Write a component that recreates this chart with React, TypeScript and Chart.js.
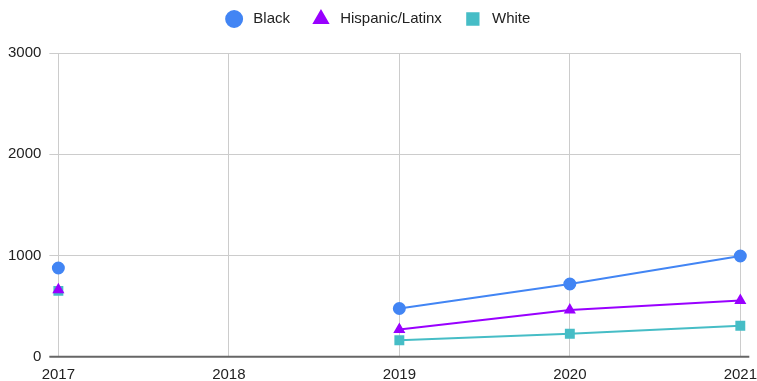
import React, { useEffect, useRef } from "react";
import { Chart, registerables } from "chart.js";

Chart.register(...registerables);

const years = ["2017", "2018", "2019", "2020", "2021"];
const black = [876, null, 476, 718, 995];
const hispanic = [662, null, 269, 462, 555];
const white = [650, null, 163, 226, 305];
const yTicks = [0, 1000, 2000, 3000];

const FONT = "'Liberation Sans', Arial, sans-serif";

const baselinePlugin = {
  id: "baseline",
  beforeInit(chart: any) {
    const fit = chart.legend.fit;
    chart.legend.fit = function () {
      fit.bind(chart.legend)();
      this.height += 16.5;
    };
  },
  beforeDatasetsDraw(chart: any) {
    const { ctx, chartArea, scales } = chart;
    const y = scales.y.getPixelForValue(0);
    ctx.save();
    ctx.strokeStyle = "#666666";
    ctx.lineWidth = 2;
    ctx.beginPath();
    ctx.moveTo(chartArea.left - 9, y);
    ctx.lineTo(chartArea.right + 9, y);
    ctx.stroke();
    ctx.restore();
  },
};

export default function App() {
  const ref = useRef<HTMLCanvasElement | null>(null);
  useEffect(() => {
    document.body.style.margin = "0";
    const ctx = ref.current!;
    const chart = new Chart(ctx, {
      type: "line",
      data: {
        labels: years,
        datasets: [
          {
            label: "Black",
            data: black,
            borderColor: "#4285F4",
            backgroundColor: "#4285F4",
            pointStyle: "circle",
            pointRadius: 5.5,
            pointHoverRadius: 5.5,
            borderWidth: 2,
            spanGaps: false,
          },
          {
            label: "Hispanic/Latinx",
            data: hispanic,
            borderColor: "#9900FF",
            backgroundColor: "#9900FF",
            pointStyle: "triangle",
            pointRadius: 5,
            pointHoverRadius: 5,
            borderWidth: 2,
            spanGaps: false,
          },
          {
            label: "White",
            data: white,
            borderColor: "#46BDC6",
            backgroundColor: "#46BDC6",
            pointStyle: "rect",
            pointRadius: 5.6,
            pointHoverRadius: 5.6,
            borderWidth: 2,
            spanGaps: false,
          },
        ],
      },
      options: {
        animation: false,
        responsive: false,
        maintainAspectRatio: false,
        layout: { padding: { left: 0, right: 0, top: -12, bottom: -11.7 } },
        plugins: {
          legend: {
            position: "top",
            labels: {
              usePointStyle: true,
              boxHeight: 11.3,
              padding: 23.5,
              color: "#222",
              font: { family: FONT, size: 15 },
              generateLabels: (chart: any) => {
                const items = Chart.defaults.plugins.legend.labels.generateLabels(chart);
                return items.map((it: any) => ({ ...it, text: " " + it.text }));
              },
            },
          },
          tooltip: { enabled: false },
        },
        scales: {
          x: {
            type: "category",
            offset: false,
            grid: { color: "#cccccc", drawTicks: false, lineWidth: 1 },
            border: { display: false },
            ticks: { color: "#222", font: { family: FONT, size: 15 }, padding: 9, maxRotation: 0 },
            afterFit: (s: any) => {
              s.paddingRight = Math.max(s.paddingRight - 9, 0);
            },
          },
          y: {
            min: 0,
            max: 3000,
            afterBuildTicks: (axis: any) => {
              axis.ticks = yTicks.map((v) => ({ value: v }));
            },
            grid: { color: "#cccccc", tickLength: 9, lineWidth: 1 },
            border: { display: false },
            ticks: {
              color: "#222",
              font: { family: FONT, size: 15 },
              padding: 8,
              callback: (v: any) => String(v),
            },
          },
        },
      },
      plugins: [baselinePlugin],
    });
    return () => chart.destroy();
  }, []);
  return (
    <div style={{ width: 757, height: 381 }}>
      <canvas ref={ref} width={757} height={381} style={{ display: "block" }} />
    </div>
  );
}
